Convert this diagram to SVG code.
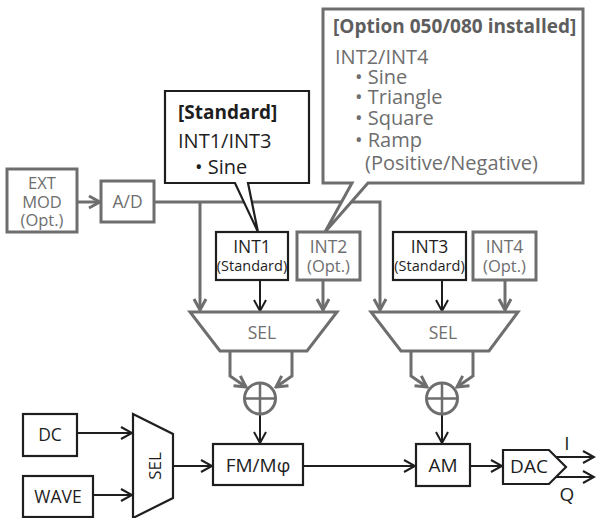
<svg xmlns="http://www.w3.org/2000/svg" width="597" height="518" viewBox="0 0 597 518">
<defs>
<style>
text{font-family:"Open Sans","Noto Sans","DejaVu Sans",sans-serif;}
.t{font-size:20px;fill:#1e1e1e;}
.tg{font-size:20px;fill:#6e6e6e;}
.b{font-weight:bold;font-size:19px;}
.m{text-anchor:middle;}
.s{font-size:14.5px;}
.o{font-size:17.5px;}
.o2{font-size:16.5px;}
.bk{fill:#fff;stroke:#1e1e1e;stroke-width:2.2;}
.gy{fill:#fff;stroke:#6e6e6e;stroke-width:3;}
.lb{fill:none;stroke:#1e1e1e;stroke-width:2;}
.lg{fill:none;stroke:#6e6e6e;stroke-width:3;}
</style>
<marker id="ab" viewBox="-13 -8 15 16" markerWidth="15" markerHeight="16" refX="0" refY="0" orient="auto" markerUnits="userSpaceOnUse"><path d="M-11,-6 L0,0 L-11,6" fill="none" stroke="#1e1e1e" stroke-width="2"/></marker>
<marker id="ag" viewBox="-13 -8 15 16" markerWidth="15" markerHeight="16" refX="0" refY="0" orient="auto" markerUnits="userSpaceOnUse"><path d="M-11,-6 L0,0 L-11,6" fill="none" stroke="#6e6e6e" stroke-width="3"/></marker>
</defs>
<rect width="597" height="518" fill="#fff"/>

<g id="connectors">
<line class="lg" x1="77" y1="202" x2="100" y2="202" marker-end="url(#ag)"/>
<polyline class="lg" points="154,202 380,202 380,310" marker-end="url(#ag)"/>
<line class="lg" x1="200" y1="202" x2="200" y2="310" marker-end="url(#ag)"/>
<line class="lb" x1="260" y1="280" x2="260" y2="311" marker-end="url(#ab)"/>
<line class="lg" x1="323" y1="280" x2="323" y2="310" marker-end="url(#ag)"/>
<line class="lb" x1="442" y1="280" x2="442" y2="311" marker-end="url(#ab)"/>
<line class="lg" x1="505" y1="280" x2="505" y2="310" marker-end="url(#ag)"/>
<polyline class="lg" points="230,352 230,376 246,387" marker-end="url(#ag)"/>
<polyline class="lg" points="292,352 292,376 276,387" marker-end="url(#ag)"/>
<polyline class="lg" points="411,352 411,376 427,387" marker-end="url(#ag)"/>
<polyline class="lg" points="473,352 473,376 457,387" marker-end="url(#ag)"/>
<line class="lb" x1="260" y1="414" x2="260" y2="443" marker-end="url(#ab)"/>
<line class="lb" x1="442" y1="414" x2="442" y2="443" marker-end="url(#ab)"/>
<line class="lb" x1="77" y1="433" x2="132" y2="433" marker-end="url(#ab)"/>
<line class="lb" x1="93" y1="495" x2="132" y2="495" marker-end="url(#ab)"/>
<line class="lb" x1="173" y1="466" x2="212" y2="466" marker-end="url(#ab)"/>
<line class="lb" x1="303" y1="466" x2="415" y2="466" marker-end="url(#ab)"/>
<line class="lb" x1="470" y1="466" x2="502" y2="466" marker-end="url(#ab)"/>
<line class="lb" x1="556" y1="457" x2="594" y2="457" marker-end="url(#ab)"/>
<line class="lb" x1="556" y1="477" x2="594" y2="477" marker-end="url(#ab)"/>
</g>

<g id="ext-mod">
<rect class="gy" x="7" y="169" width="70" height="63"/>
<text class="tg m o2" x="42" y="189">EXT</text>
<text class="tg m o2" x="42" y="208">MOD</text>
<text class="tg m o2" x="42" y="226">(Opt.)</text>
</g>
<g id="ad">
<rect class="gy" x="101" y="181" width="53" height="41"/>
<text class="tg m o" x="127.5" y="208">A/D</text>
</g>

<g id="int1">
<rect class="bk" x="216" y="232" width="72" height="48"/>
<text class="t m o" x="252" y="253">INT1</text>
<text class="t m s" x="252" y="271">(Standard)</text>
</g>
<g id="int2">
<rect class="gy" x="297" y="232" width="63" height="48"/>
<text class="tg m o" x="328.5" y="253">INT2</text>
<text class="tg m o2" x="328.5" y="272">(Opt.)</text>
</g>
<g id="int3">
<rect class="bk" x="393" y="232" width="73" height="48"/>
<text class="t m o" x="429.5" y="253">INT3</text>
<text class="t m s" x="429.5" y="271">(Standard)</text>
</g>
<g id="int4">
<rect class="gy" x="473" y="232" width="63" height="48"/>
<text class="tg m o" x="504.5" y="253">INT4</text>
<text class="tg m o2" x="504.5" y="272">(Opt.)</text>
</g>

<g id="sel1">
<polygon class="gy" points="190,312 337,312 307,351 220,351"/>
<text class="tg m" x="262" y="339" style="font-size:17.5px">SEL</text>
</g>
<g id="sel2">
<polygon class="gy" points="371,312 518,312 489,351 401,351"/>
<text class="tg m" x="443" y="339" style="font-size:17.5px">SEL</text>
</g>

<g id="sum1">
<circle cx="260" cy="398.5" r="15.5" fill="#fff" stroke="#6e6e6e" stroke-width="3"/>
<path d="M244.5,398.5 H275.5 M260,383 V414" stroke="#6e6e6e" stroke-width="2.5"/>
</g>
<g id="sum2">
<circle cx="442" cy="398.5" r="15.5" fill="#fff" stroke="#6e6e6e" stroke-width="3"/>
<path d="M426.5,398.5 H457.5 M442,383 V414" stroke="#6e6e6e" stroke-width="2.5"/>
</g>

<g id="dc">
<rect class="bk" x="23" y="414" width="54" height="42"/>
<text class="t m o" x="50" y="441">DC</text>
</g>
<g id="wave">
<rect class="bk" x="23" y="476" width="70" height="41"/>
<text class="t m o" x="58" y="503">WAVE</text>
</g>
<g id="sel3">
<polygon class="bk" points="133,414 173,434 173,498 133,518"/>
<text class="t m" transform="translate(155,466) rotate(-90)" y="6" style="font-size:17px">SEL</text>
</g>
<g id="fm">
<rect class="bk" x="213" y="444" width="90" height="41"/>
<text class="t m" x="258" y="472" style="font-size:19px">FM/Mφ</text>
</g>
<g id="am">
<rect class="bk" x="416" y="444" width="54" height="42"/>
<text class="t m" x="443" y="472" style="font-size:19px">AM</text>
</g>
<g id="dac">
<polygon class="bk" points="503,450 549,450 566,467 549,484 503,484"/>
<text class="t m" x="529" y="473" style="font-size:19px">DAC</text>
<text class="t m" x="567" y="450" style="font-size:19px">I</text>
<text class="t m" x="567" y="501" style="font-size:19px">Q</text>
</g>

<g id="callout-standard">
<path class="bk" d="M165,91 H309 V183 H248 L258,232 L235,183 H165 Z"/>
<text class="t b" x="178" y="119">[Standard]</text>
<text class="t" x="178" y="148">INT1/INT3</text>
<text class="t" x="195" y="174">• Sine</text>
</g>
<g id="callout-option">
<path class="gy" d="M323,9 H583 V183 H368 L325,232 L352,183 H323 Z"/>
<text class="tg b" x="333" y="33" style="fill:#5e5e5e">[Option 050/080 installed]</text>
<text class="tg" x="335" y="64">INT2/INT4</text>
<text class="tg" x="355" y="84">• Sine</text>
<text class="tg" x="355" y="104">• Triangle</text>
<text class="tg" x="355" y="125">• Square</text>
<text class="tg" x="355" y="147">• Ramp</text>
<text class="tg" x="365" y="170">(Positive/Negative)</text>
</g>
</svg>
